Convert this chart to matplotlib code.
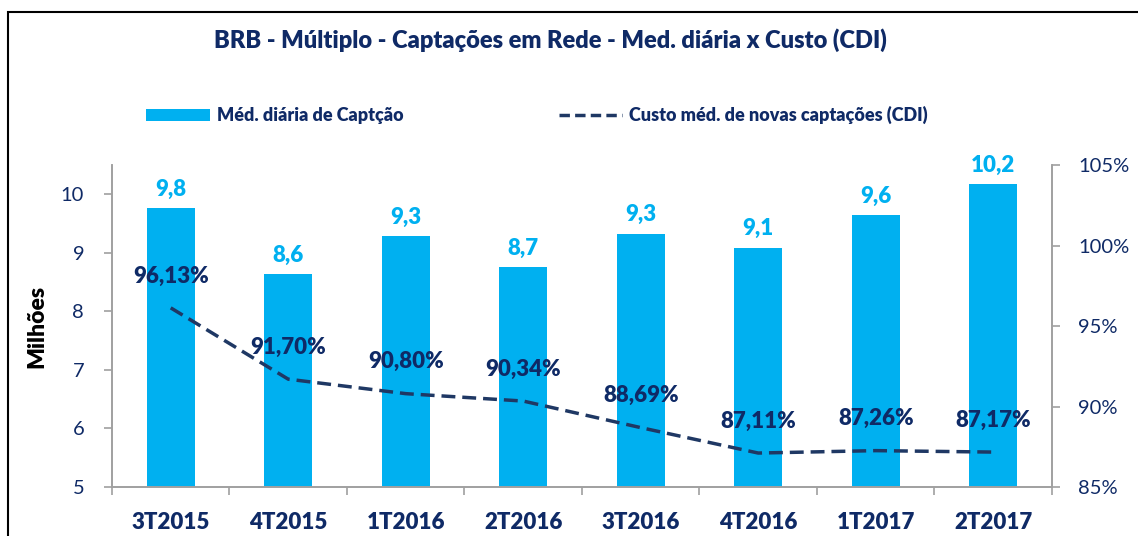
import matplotlib.pyplot as plt
from matplotlib.lines import Line2D
from matplotlib.patches import Patch, Rectangle

# -------------------------
# DATA
# -------------------------
quarters = ['3T2015', '4T2015', '1T2016', '2T2016', '3T2016', '4T2016', '1T2017', '2T2017']
media_diaria = [9.77, 8.64, 9.29, 8.76, 9.33, 9.09, 9.65, 10.18]
media_labels = ['9,8', '8,6', '9,3', '8,7', '9,3', '9,1', '9,6', '10,2']
custo_cdi = [96.13, 91.70, 90.80, 90.34, 88.69, 87.11, 87.26, 87.17]
left_ticks = [5, 6, 7, 8, 9, 10]
right_ticks = [85, 90, 95, 100, 105]

BAR = '#00B0F0'
LINE = '#1F3864'
NAVY = '#0F2A66'
SPINE = '#A0A0A0'
HEAVY = 'heavy'

plt.rcParams['font.family'] = ['Lato', 'DejaVu Sans']

fig = plt.figure(figsize=(11.38, 5.36), dpi=100)
ax = fig.add_axes([0.0984, 0.0914, 0.826, 0.6006])
ax2 = ax.twinx()

x = list(range(len(quarters)))

# -------------------------
# BARS (left axis)
# -------------------------
ax.bar(x, media_diaria, width=0.41, color=BAR, zorder=2)
for xi, v, lab in zip(x, media_diaria, media_labels):
    ax.annotate(lab, (xi, v), xytext=(0, 6), textcoords='offset points',
                ha='center', va='bottom', fontsize=16, fontweight=HEAVY, color=BAR)

ax.set_xlim(-0.5, len(quarters) - 0.5)
ax.set_ylim(5, 10.5)
ax.set_yticks(left_ticks)
ax.set_yticklabels([str(t) for t in left_ticks])
ax.set_ylabel('Milhões', fontsize=16.5, fontweight=HEAVY, color='black', labelpad=10)

# -------------------------
# LINE (right axis)
# -------------------------
ax2.plot(x, custo_cdi, color=LINE, linewidth=2.5, linestyle=(0, (4, 2)), zorder=3)
for xi, v in zip(x, custo_cdi):
    lab = f'{v:.2f}%'.replace('.', ',')
    ax2.annotate(lab, (xi, v), xytext=(0, 23), textcoords='offset points',
                 ha='center', va='center', fontsize=16, fontweight=HEAVY, color=NAVY)
ax2.set_ylim(85, 105)
ax2.set_yticks(right_ticks)
ax2.set_yticklabels([f'{t}%' for t in right_ticks])

# -------------------------
# AXES STYLE
# -------------------------
ax.set_xticks(x)
ax.set_xticklabels(quarters)
ax.set_xticks([i - 0.5 for i in range(len(quarters) + 1)], minor=True)
ax.tick_params(axis='x', which='major', length=0, pad=18, labelsize=16, labelcolor=NAVY)
for t in ax.get_xticklabels():
    t.set_fontweight(HEAVY)
ax.tick_params(axis='x', which='minor', length=6, width=1.2, color=SPINE, direction='out')
ax.tick_params(axis='y', length=6, width=1.2, color=SPINE, pad=14, labelsize=14.5, labelcolor=NAVY)
ax2.tick_params(axis='y', length=6, width=1.2, color=SPINE, pad=13, labelsize=14.5, labelcolor=NAVY)

for a in (ax, ax2):
    a.spines['top'].set_visible(False)
    for s in ('left', 'right', 'bottom'):
        a.spines[s].set_color(SPINE)
        a.spines[s].set_linewidth(1.2)

# -------------------------
# TITLE / LEGEND / BORDER
# -------------------------
fig.text(0.484, 0.9104, 'BRB - Múltiplo - Captações em Rede - Med. diária x Custo (CDI)',
         ha='center', va='baseline', fontsize=17, fontweight=HEAVY, color=NAVY)

handles = [Patch(facecolor=BAR, edgecolor='none'),
           Line2D([0], [0], color=LINE, linewidth=2.5, linestyle=(0, (3, 1.5)))]
leg = fig.legend(handles, ['Méd. diária de Captção', 'Custo méd. de novas captações (CDI)'],
                 loc='center', bbox_to_anchor=(0.472, 0.785), ncol=2, frameon=False,
                 fontsize=13, handlelength=3.5, handletextpad=0.4, columnspacing=8.6)
for t in leg.get_texts():
    t.set_fontweight(HEAVY)
    t.set_color(NAVY)

fig.patches.append(Rectangle((8 / 1138, -0.05), 1.1, 1.05 - 12 / 536,
                             transform=fig.transFigure, fill=False,
                             edgecolor='black', linewidth=1.5))

fig.savefig('out.png', dpi=100)
